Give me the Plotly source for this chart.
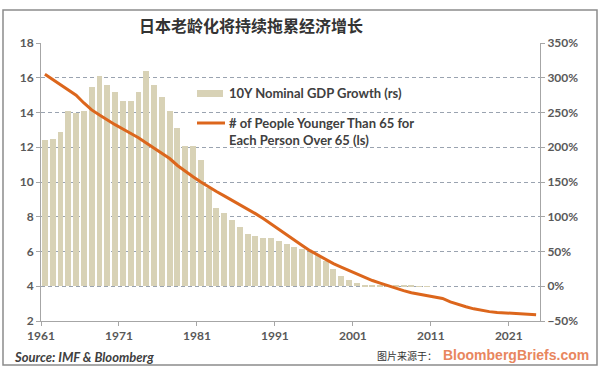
import plotly.graph_objects as go

years = list(range(1961, 2025))

# 10Y nominal GDP growth (right axis, fraction), 1961-2010
gdp_years = list(range(1961, 2011))
gdp_growth = [2.10, 2.12, 2.22, 2.52, 2.50, 2.52, 2.87, 3.02, 2.90, 2.80,
              2.67, 2.67, 2.80, 3.10, 2.90, 2.72, 2.52, 2.27, 2.02, 2.02,
              1.82, 1.42, 1.12, 1.06, 0.96, 0.85, 0.75, 0.72, 0.70, 0.69,
              0.65, 0.61, 0.57, 0.54, 0.50, 0.45, 0.37, 0.25, 0.15, 0.09,
              0.04, 0.025, 0.012, 0.005, 0.004, 0.006, 0.012, 0.006, -0.004, -0.004]

# People younger than 65 for each person over 65 (left axis)
ratio = [16.2, 15.9, 15.6, 15.35, 15.0, 14.55, 14.15, 13.85, 13.55, 13.3,
         13.05, 12.8, 12.55, 12.25, 11.95, 11.7, 11.35, 10.95, 10.6, 10.3,
         10.0, 9.7, 9.45, 9.2, 8.95, 8.7, 8.45, 8.18, 7.9, 7.58,
         7.26, 6.95, 6.65, 6.35, 6.05, 5.8, 5.55, 5.3, 5.1, 4.9,
         4.7, 4.5, 4.33, 4.18, 4.03, 3.88, 3.75, 3.63, 3.55, 3.5,
         3.42, 3.3, 3.1, 2.95, 2.82, 2.7, 2.6, 2.54, 2.49, 2.46,
         2.44, 2.42, 2.39, 2.36]

tick_years = [1961, 1971, 1981, 1991, 2001, 2011, 2021]

title = "日本老龄化将持续拖累经济增长"
bar_name = "10Y Nominal GDP Growth (rs)"
line_name = "# of People Younger Than 65 for<br>Each Person Over 65 (ls)"

BAR_COLOR = "#D8D2B6"
LINE_COLOR = "#DC661C"
TXT = "#404040"
TICK = "#595959"
FONT = "Lato"

fig = go.Figure()
fig.add_trace(go.Bar(x=gdp_years, y=gdp_growth, name=bar_name, yaxis="y",
                     marker=dict(color=BAR_COLOR, line=dict(width=0)),
                     width=0.76, showlegend=False))
fig.add_trace(go.Scatter(x=years, y=ratio, name=line_name, yaxis="y2",
                         mode="lines", line=dict(color=LINE_COLOR, width=3),
                         showlegend=False))

W, H = 600, 369
L, R, T, B = 41, 60, 43, 48
pw, ph = W - L - R, H - T - B


def px(xp):
    return (xp - L) / pw


def py(yp):
    return (H - B - yp) / ph


tickfont = dict(family=FONT, size=12, color=TICK, weight="bold")

fig.update_layout(
    width=W, height=H,
    margin=dict(l=L, r=R, t=T, b=B),
    paper_bgcolor="white", plot_bgcolor="white",
    bargap=0,
    font=dict(family=FONT, color=TXT, size=12),
    xaxis=dict(range=[1960.5, 2024.5], tickvals=[y - 0.5 for y in tick_years],
               ticktext=[str(y) for y in tick_years], showgrid=False,
               zeroline=False, showline=True, linecolor="#A6A6A6", linewidth=1,
               ticks="outside", ticklen=4, tickcolor="#A6A6A6",
               tickfont=tickfont),
    yaxis=dict(side="right", range=[-0.5, 3.5], dtick=0.5, tickformat=".0%",
               showgrid=False, zeroline=False, showline=True,
               linecolor="#A6A6A6", ticks="outside", ticklen=4,
               tickcolor="#A6A6A6", tickfont=tickfont),
    yaxis2=dict(side="left", overlaying="y", range=[2, 18], dtick=2,
                showgrid=True, gridcolor="#9AA3B0", griddash="4px,3px",
                gridwidth=1, zeroline=False, showline=True,
                linecolor="#A6A6A6", ticks="outside", ticklen=4,
                tickcolor="#A6A6A6", tickfont=tickfont),
)

shapes = [
    # outer border frame
    dict(type="rect", xref="paper", yref="paper",
         x0=px(3), x1=px(597), y0=py(365), y1=py(10),
         line=dict(color="#8C8C8C", width=1.5), fillcolor="rgba(0,0,0,0)",
         layer="above"),
    # legend swatches
    dict(type="rect", xref="paper", yref="paper",
         x0=px(197), x1=px(223), y0=py(97), y1=py(90),
         line=dict(width=0), fillcolor=BAR_COLOR, layer="above"),
    dict(type="line", xref="paper", yref="paper",
         x0=px(197), x1=px(225), y0=py(123), y1=py(123),
         line=dict(color=LINE_COLOR, width=3), layer="above"),
]

annotations = [
    dict(text="<b>" + title + "</b>", x=px(251), y=py(25), xref="paper",
         yref="paper", showarrow=False, xanchor="center", yanchor="middle",
         font=dict(family="Noto Sans CJK SC", size=16, color="#333333")),
    dict(text="<b>" + bar_name + "</b>", x=px(227), y=py(93), xref="paper",
         yref="paper", showarrow=False, xanchor="left", yanchor="middle",
         font=dict(family=FONT, size=13, color=TXT)),
    dict(text="<b>" + line_name + "</b>", x=px(227), y=py(113),
         xref="paper", yref="paper", showarrow=False, xanchor="left",
         yanchor="top", align="left",
         font=dict(family=FONT, size=13, color=TXT)),
    dict(text="<b><i>Source: IMF &amp; Bloomberg</i></b>", x=px(12),
         y=py(357), xref="paper", yref="paper", showarrow=False,
         xanchor="left", yanchor="middle",
         font=dict(family=FONT, size=13, color="#404040")),
    dict(text="图片来源于：", x=px(375), y=py(355), xref="paper", yref="paper",
         showarrow=False, xanchor="left", yanchor="middle",
         font=dict(family="Noto Sans CJK SC", size=10, color="#333333")),
    dict(text="<b>BloombergBriefs.com</b>", x=px(441), y=py(355),
         xref="paper", yref="paper", showarrow=False, xanchor="left",
         yanchor="middle",
         font=dict(family="Liberation Sans", size=14, color="#E8865E")),
]

fig.update_layout(shapes=shapes, annotations=annotations)
fig.write_html("out.html", config={"displayModeBar": False},
               post_script="document.body.style.margin='0';"
                           "document.body.style.padding='0';")
